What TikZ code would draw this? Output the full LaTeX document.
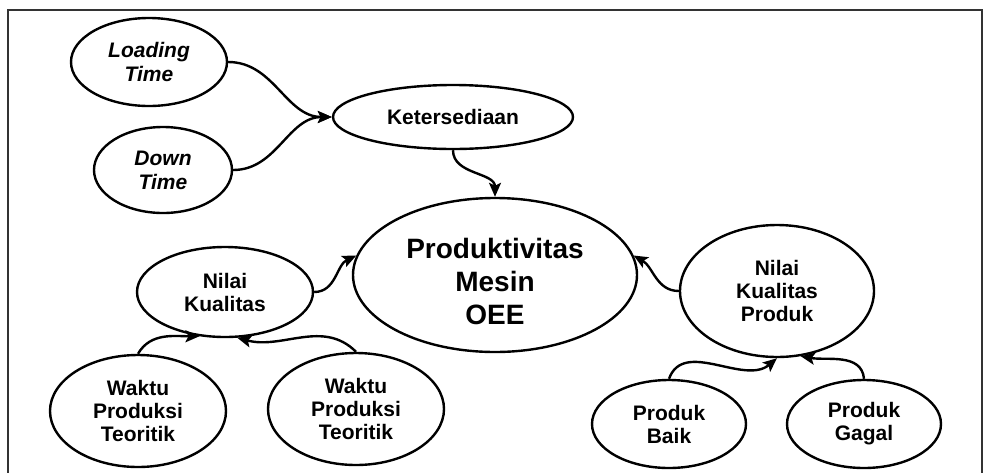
\documentclass[tikz,border=0pt]{standalone}
\usepackage{fontspec}
\setmainfont{Liberation Sans}
\usetikzlibrary{shapes.geometric,arrows.meta}
\begin{document}
\begin{tikzpicture}[x=1pt,y=1pt,
  el/.style={ellipse,draw,line width=2.4pt,inner sep=0pt,align=center,font=\fontsize{21}{23}\selectfont\bfseries},
  eli/.style={el,font=\fontsize{21}{24}\selectfont\bfseries\itshape},
  big/.style={el,font=\fontsize{28}{33}\selectfont\bfseries},
  conn/.style={line width=2.4pt,-{Stealth[length=14pt,width=12pt,inset=3pt]}}]
\useasboundingbox (0,0) rectangle (985,-472);
\clip (0,0) rectangle (985,-472);
\fill[white] (0,0) rectangle (985,-472);
\draw[line width=2.5pt, black!80] (8,-10) rectangle (982,-495);
% nodes
\node[eli,minimum width=156,minimum height=88] (load) at (149,-62) {Loading\\Time};
\node[eli,minimum width=138,minimum height=86] (down) at (163,-170) {Down\\Time};
\node[el,minimum width=240,minimum height=64] (ket) at (453,-117) {Ketersediaan};
\node[big,minimum width=284,minimum height=154] (prod) at (495,-275) {};
\node[font=\fontsize{28}{33}\selectfont\bfseries,align=center] (prodtxt) at (495,-281) {Produktivitas\\Mesin\\OEE};
\node[el,minimum width=176,minimum height=90] (nk) at (225,-292) {Nilai\\Kualitas};
\node[el,minimum width=176,minimum height=112] (w1) at (138,-411) {Waktu\\Produksi\\Teoritik};
\node[el,minimum width=176,minimum height=112] (w2) at (356,-409) {Waktu\\Produksi\\Teoritik};
\node[el,minimum width=194,minimum height=132] (nkp) at (777,-291) {Nilai\\Kualitas\\Produk};
\node[el,minimum width=154,minimum height=88] (baik) at (669,-424) {Produk\\Baik};
\node[el,minimum width=154,minimum height=88] (gagal) at (864,-424) {Produk\\Gagal};
% connectors
\draw[conn] (load.east) to[out=0,in=180] (ket.west);
\draw[conn] (down.east) to[out=0,in=180] (ket.west);
\draw[conn] (ket.south) to[out=-90,in=90] (prod.north);
\draw[conn] (nk.east) to[out=0,in=205] (prod.172);
\draw[conn] (w1.north) to[out=60,in=180] (nk.240);
\draw[conn] (w2.north) to[out=135,in=-15] (nk.285);
\draw[conn] (nkp.west) to[out=180,in=-30] (prod.8);
\draw[conn] (baik.north) to[out=70,in=220] (nkp.270);
\draw[conn] (gagal.north) to[out=95,in=-10] (nkp.290);
\end{tikzpicture}
\end{document}
